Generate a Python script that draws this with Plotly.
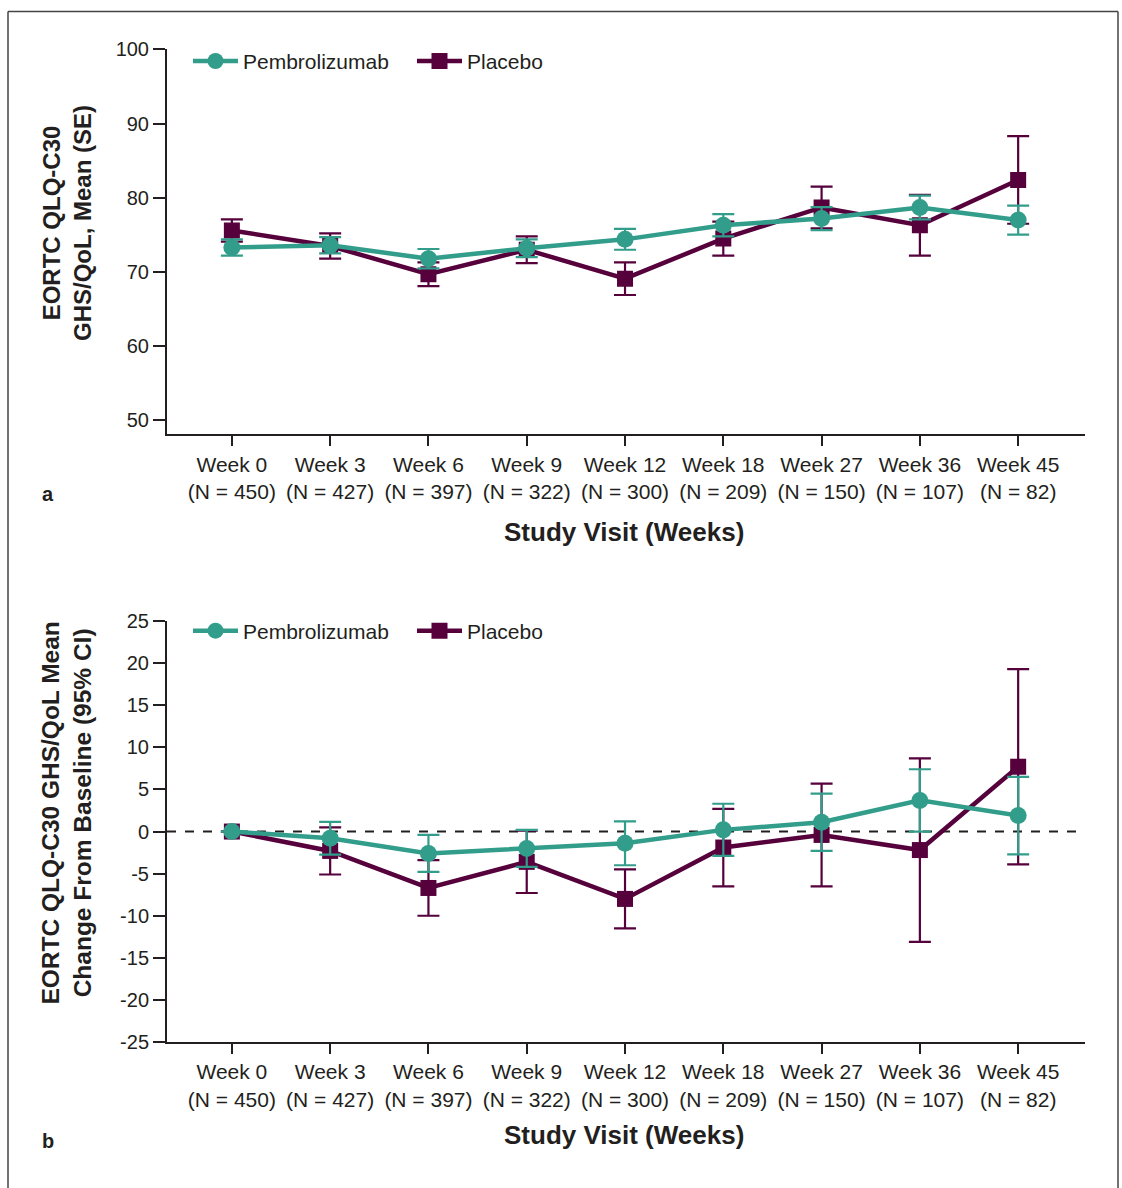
import plotly.graph_objects as go

weeks = ["Week 0", "Week 3", "Week 6", "Week 9", "Week 12", "Week 18", "Week 27", "Week 36", "Week 45"]
n_counts = [450, 427, 397, 322, 300, 209, 150, 107, 82]
tick_labels = [f"{w}<br>(N = {n})" for w, n in zip(weeks, n_counts)]

# Panel a: mean (SE)
pembro_mean = [73.3, 73.6, 71.8, 73.2, 74.4, 76.3, 77.2, 78.7, 77.0]
pembro_se = [1.1, 1.1, 1.3, 1.2, 1.4, 1.5, 1.55, 1.6, 1.95]
placebo_mean = [75.6, 73.5, 69.7, 73.0, 69.1, 74.5, 78.7, 76.3, 82.4]
placebo_se = [1.5, 1.7, 1.6, 1.8, 2.2, 2.3, 2.8, 4.1, 5.9]

# Panel b: mean change from baseline (95% CI)
pembro_chg = [0.0, -0.8, -2.6, -2.0, -1.4, 0.2, 1.1, 3.7, 1.9]
pembro_ci = [0.0, 1.95, 2.2, 2.2, 2.6, 3.1, 3.4, 3.7, 4.6]
placebo_chg = [0.0, -2.3, -6.7, -3.6, -8.0, -1.9, -0.4, -2.2, 7.7]
placebo_ci = [0.0, 2.8, 3.3, 3.7, 3.5, 4.6, 6.1, 10.9, 11.6]

y_ticks_a = [50, 60, 70, 80, 90, 100]
y_ticks_b = [-25, -20, -15, -10, -5, 0, 5, 10, 15, 20, 25]
y_ticktext_b = [str(v) for v in y_ticks_b]

TEAL = "#329D8A"
MAROON = "#56003C"
INK = "#231F20"
FONT = "Arial, Liberation Sans, sans-serif"

W, HF = 1122, 1200
SCALE, SHIFT = 0.984, 9.5   # observed vertical mapping of the capture
def px(x):
    return x / W
def py(y):
    fy = (y - SHIFT) / SCALE
    return 1 - fy / HF

xs = list(range(len(weeks)))
fig = go.Figure()

def add_pair(xa, ya, pm, pe, plm, ple, legend):
    fig.add_trace(go.Scatter(
        x=xs, y=plm, name="Placebo", mode="lines+markers",
        xaxis=xa, yaxis=ya, legend=legend, legendrank=2,
        line=dict(color=MAROON, width=4.5),
        marker=dict(symbol="square", size=16, color=MAROON),
        error_y=dict(type="data", array=ple, visible=True, color=MAROON, thickness=2.2, width=11),
    ))
    fig.add_trace(go.Scatter(
        x=xs, y=pm, name="Pembrolizumab", mode="lines+markers",
        xaxis=xa, yaxis=ya, legend=legend, legendrank=1,
        line=dict(color=TEAL, width=4.5),
        marker=dict(symbol="circle", size=17, color=TEAL),
        error_y=dict(type="data", array=pe, visible=True, color=TEAL, thickness=2.2, width=11),
    ))

add_pair("x", "y", pembro_mean, pembro_se, placebo_mean, placebo_se, "legend")
add_pair("x2", "y2", pembro_chg, pembro_ci, placebo_chg, placebo_ci, "legend2")

xdom = [px(167), px(1085)]
base_axis = dict(showline=True, linecolor=INK, linewidth=2, ticks="outside",
                 tickwidth=2, tickcolor=INK, showgrid=False, zeroline=False)
xaxis_common = dict(tickfont=dict(family=FONT, size=21, color=INK), ticklen=10, **base_axis)
yaxis_common = dict(tickfont=dict(family=FONT, size=20, color=INK), ticklen=12, **base_axis)

legend_common = dict(orientation="h", xanchor="left", yanchor="middle",
                     font=dict(family=FONT, size=21, color=INK), bgcolor="rgba(0,0,0,0)",
                     itemwidth=45, traceorder="normal", entrywidth=164)

fig.update_layout(
    width=W, height=HF,
    margin=dict(l=0, r=0, t=0, b=0),
    paper_bgcolor="white", plot_bgcolor="white",
    font=dict(family=FONT, color=INK),
    xaxis=dict(domain=xdom, range=[-0.66, 8.68], tickvals=xs, ticktext=tick_labels,
               anchor="y", **xaxis_common),
    yaxis=dict(domain=[py(434), py(48)], range=[48.1, 100], tickvals=y_ticks_a,
               anchor="x", **yaxis_common),
    xaxis2=dict(domain=xdom, range=[-0.66, 8.68], tickvals=xs, ticktext=tick_labels,
                anchor="y2", **xaxis_common),
    yaxis2=dict(domain=[py(1043), py(621)], range=[-25, 25],
                tickvals=y_ticks_b, ticktext=y_ticktext_b,
                anchor="x2", **yaxis_common),
    legend=dict(x=px(188), y=py(60), **legend_common),
    legend2=dict(x=px(188), y=py(631), **legend_common),
)

# zero reference line in panel b
fig.add_shape(type="line", xref="x2 domain", yref="y2", x0=0, x1=1, y0=0, y1=0,
              line=dict(color=INK, width=2, dash="dash"), layer="below")

# outer frame
top = min(1.0 - 0.5 / HF, py(8))
for (x0, y0, x1, y1) in [(8, top, 1118, top), (8, top, 8, 0), (1118, top, 1118, 0)]:
    fig.add_shape(type="line", xref="paper", yref="paper", x0=px(x0), y0=y0, x1=px(x1), y1=y1,
                  line=dict(color="#444444", width=1.5))

ann = [
    dict(text="<b>EORTC QLQ-C30<br>GHS/QoL, Mean (SE)</b>", x=px(67), y=py(222), textangle=-90, size=24),
    dict(text="<b>EORTC QLQ-C30 GHS/QoL Mean<br>Change From Baseline (95% CI)</b>", x=px(67), y=py(814), textangle=-90, size=24.5),
    dict(text="<b>Study Visit (Weeks)</b>", x=px(624), y=py(532), textangle=0, size=26),
    dict(text="<b>Study Visit (Weeks)</b>", x=px(624), y=py(1136), textangle=0, size=26),
    dict(text="<b>a</b>", x=px(48), y=py(494), textangle=0, size=20),
    dict(text="<b>b</b>", x=px(48), y=py(1142), textangle=0, size=20),
]
for a in ann:
    fig.add_annotation(text=a["text"], x=a["x"], y=a["y"], xref="paper", yref="paper",
                       showarrow=False, textangle=a["textangle"], xanchor="center", yanchor="middle",
                       font=dict(family=FONT, size=a["size"], color=INK))

fig.write_html("out.html")
